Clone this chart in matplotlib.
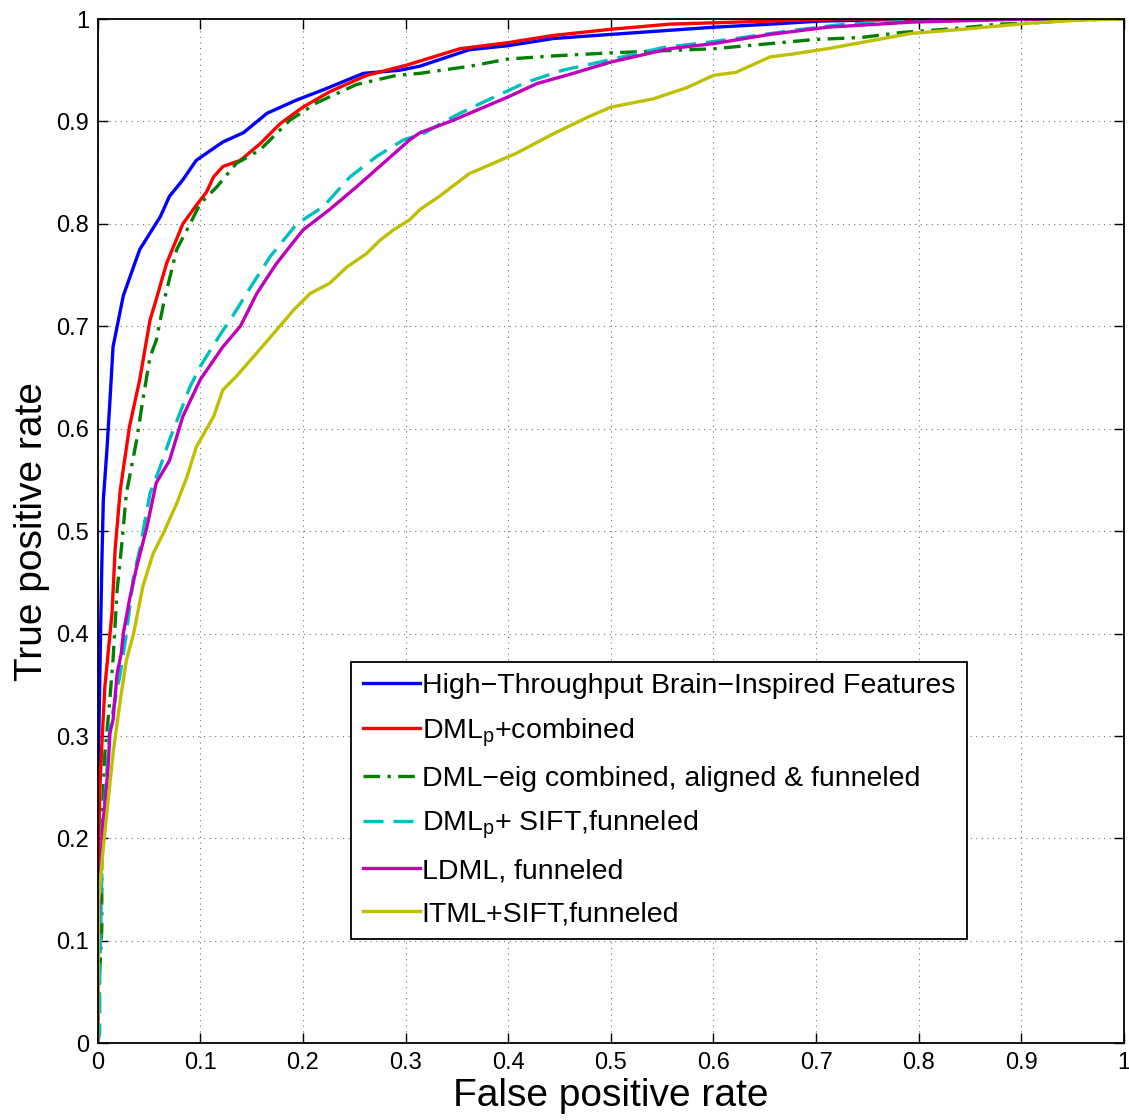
import numpy as np
import matplotlib
matplotlib.use("Agg")
import matplotlib.pyplot as plt

plt.rcParams['font.family'] = ['Liberation Sans', 'DejaVu Sans']
plt.rcParams['mathtext.fontset'] = 'custom'
plt.rcParams['mathtext.rm'] = 'Liberation Sans'
plt.rcParams['mathtext.default'] = 'regular'

# ROC curves (false positive rate, true positive rate)
blue_fpr = [0, 0, 0.002, 0.003, 0.004, 0.0055, 0.009, 0.012, 0.015, 0.025, 0.041, 0.051, 0.061,
            0.070, 0.083, 0.096, 0.122, 0.142, 0.165, 0.194, 0.220, 0.259, 0.294, 0.314, 0.362,
            0.400, 0.444, 0.500, 0.600, 0.655, 0.704, 0.80, 1.0]
blue_tpr = [0, 0.24, 0.35, 0.41, 0.465, 0.53, 0.579, 0.628, 0.680, 0.730, 0.775, 0.791, 0.807,
            0.827, 0.843, 0.862, 0.880, 0.889, 0.908, 0.921, 0.931, 0.947, 0.950, 0.954, 0.970,
            0.974, 0.981, 0.985, 0.992, 0.995, 0.998, 1.0, 1.0]

red_fpr = [0, 0, 0.002, 0.004, 0.007, 0.014, 0.017, 0.022, 0.031, 0.041, 0.051, 0.057, 0.067,
           0.083, 0.096, 0.106, 0.113, 0.122, 0.139, 0.158, 0.178, 0.200, 0.226, 0.262, 0.301,
           0.353, 0.400, 0.444, 0.500, 0.557, 0.655, 0.72, 1.0]
red_tpr = [0, 0.143, 0.244, 0.29, 0.348, 0.42, 0.482, 0.540, 0.602, 0.648, 0.706, 0.726, 0.761,
           0.800, 0.818, 0.831, 0.846, 0.856, 0.862, 0.878, 0.898, 0.914, 0.929, 0.945, 0.955,
           0.971, 0.977, 0.984, 0.990, 0.995, 0.998, 1.0, 1.0]

green_fpr = [0, 0.002, 0.004, 0.004, 0.005, 0.007, 0.011, 0.015, 0.019, 0.023, 0.028, 0.038,
             0.044, 0.051, 0.057, 0.065, 0.077, 0.090, 0.100, 0.116, 0.135, 0.158, 0.174, 0.187,
             0.213, 0.252, 0.291, 0.314, 0.363, 0.400, 0.444, 0.500, 0.600, 0.655, 0.698, 0.744,
             0.784, 0.826, 0.859, 0.876, 0.908, 0.95, 1.0]
green_tpr = [0, 0.07, 0.111, 0.186, 0.235, 0.283, 0.325, 0.375, 0.443, 0.482, 0.537, 0.589,
             0.628, 0.670, 0.686, 0.726, 0.775, 0.800, 0.820, 0.836, 0.859, 0.872, 0.888, 0.901,
             0.918, 0.936, 0.945, 0.947, 0.954, 0.961, 0.964, 0.967, 0.971, 0.976, 0.980, 0.982,
             0.987, 0.990, 0.993, 0.995, 0.996, 0.999, 1.0]

cyan_fpr = [0, 0.002, 0.002, 0.005, 0.012, 0.022, 0.028, 0.035, 0.041, 0.051, 0.061, 0.070,
            0.080, 0.090, 0.100, 0.122, 0.129, 0.139, 0.145, 0.168, 0.194, 0.220, 0.246, 0.272,
            0.298, 0.317, 0.349, 0.376, 0.417, 0.453, 0.498, 0.55, 0.60, 0.678, 0.728, 0.80,
            0.9, 1.0]
cyan_tpr = [0, 0.01, 0.07, 0.21, 0.309, 0.361, 0.400, 0.456, 0.482, 0.537, 0.563, 0.589,
            0.615, 0.641, 0.661, 0.696, 0.706, 0.722, 0.732, 0.768, 0.800, 0.817, 0.846, 0.866,
            0.882, 0.888, 0.906, 0.919, 0.938, 0.950, 0.960, 0.972, 0.978, 0.989, 0.995, 0.998,
            1.0, 1.0]

magenta_fpr = [0, 0.001, 0.002, 0.005, 0.010, 0.012, 0.015, 0.019, 0.023, 0.025, 0.031, 0.038,
               0.048, 0.057, 0.070, 0.083, 0.100, 0.122, 0.139, 0.155, 0.174, 0.200, 0.226,
               0.252, 0.278, 0.304, 0.314, 0.346, 0.400, 0.428, 0.460, 0.500, 0.557, 0.600,
               0.655, 0.711, 0.793, 0.908, 1.0]
magenta_tpr = [0, 0.12, 0.153, 0.211, 0.267, 0.303, 0.316, 0.361, 0.381, 0.400, 0.433, 0.465,
               0.504, 0.547, 0.569, 0.612, 0.648, 0.680, 0.700, 0.732, 0.761, 0.794, 0.814,
               0.836, 0.859, 0.882, 0.889, 0.901, 0.924, 0.937, 0.946, 0.958, 0.971, 0.976,
               0.985, 0.992, 0.997, 1.0, 1.0]

yellow_fpr = [0, 0.001, 0.005, 0.010, 0.015, 0.022, 0.028, 0.035, 0.044, 0.054, 0.064, 0.077,
              0.087, 0.096, 0.113, 0.122, 0.135, 0.155, 0.174, 0.191, 0.207, 0.226, 0.243, 0.262,
              0.275, 0.288, 0.304, 0.314, 0.333, 0.362, 0.408, 0.444, 0.477, 0.500, 0.541, 0.574,
              0.600, 0.622, 0.655, 0.678, 0.711, 0.760, 0.793, 0.843, 0.908, 0.958, 1.0]
yellow_tpr = [0, 0.14, 0.186, 0.235, 0.283, 0.335, 0.374, 0.400, 0.446, 0.478, 0.498, 0.527,
              0.553, 0.582, 0.612, 0.638, 0.651, 0.674, 0.696, 0.716, 0.732, 0.742, 0.758, 0.771,
              0.784, 0.794, 0.804, 0.814, 0.827, 0.849, 0.869, 0.888, 0.904, 0.914, 0.922, 0.933,
              0.945, 0.948, 0.963, 0.966, 0.971, 0.980, 0.986, 0.990, 0.996, 0.999, 1.0]

labels = ['High\u2212Throughput Brain\u2212Inspired Features',
          'DML$_p$+combined',
          'DML\u2212eig combined, aligned & funneled',
          'DML$_p$+ SIFT,funneled',
          'LDML, funneled',
          'ITML+SIFT,funneled']

tick_vals = np.arange(0, 1.01, 0.1)
tick_labels = ['0', '0.1', '0.2', '0.3', '0.4', '0.5', '0.6', '0.7', '0.8', '0.9', '1']

fig = plt.figure(figsize=(11.29, 11.2), dpi=100)
ax = fig.add_axes([0.0865, 0.0685, 0.9091, 0.9145])

lw = 2.4
ax.plot(blue_fpr, blue_tpr, color=(0, 0, 1), lw=lw, label=labels[0])
ax.plot(red_fpr, red_tpr, color=(1, 0, 0), lw=lw, label=labels[1])
ax.plot(green_fpr, green_tpr, color=(0, 0.5, 0), lw=lw, linestyle=(0, (5, 2.2, 1, 2.2)),
        label=labels[2])
ax.plot(cyan_fpr, cyan_tpr, color=(0, 0.75, 0.75), lw=lw, linestyle=(0, (6, 3)), label=labels[3])
ax.plot(magenta_fpr, magenta_tpr, color=(0.75, 0, 0.75), lw=lw, label=labels[4])
ax.plot(yellow_fpr, yellow_tpr, color=(0.75, 0.75, 0), lw=lw, label=labels[5])

ax.set_xlim(0, 1)
ax.set_ylim(0, 1)
ax.set_xticks(tick_vals)
ax.set_xticklabels(tick_labels)
ax.set_yticks(tick_vals)
ax.set_yticklabels(tick_labels)
ax.tick_params(direction='in', length=7, width=1, top=True, right=True, labelsize=17, pad=6)
ax.grid(True, linestyle=(0, (1, 4)), color='0.45', linewidth=0.8)
for s in ax.spines.values():
    s.set_linewidth(1.3)

ax.set_xlabel('False positive rate', fontsize=28, labelpad=3)
ax.set_ylabel('True positive rate', fontsize=28)
ax.yaxis.set_label_coords(-0.046, 0.5)

leg = ax.legend(loc='lower left', bbox_to_anchor=(0.247, 0.102), fontsize=20.5, frameon=True,
                fancybox=False, edgecolor='black', framealpha=1, handlelength=2.0,
                handletextpad=0.08, labelspacing=0.6, borderpad=0.4, borderaxespad=0)
leg.get_frame().set_linewidth(1.3)

fig.savefig('out.png', dpi=100)
